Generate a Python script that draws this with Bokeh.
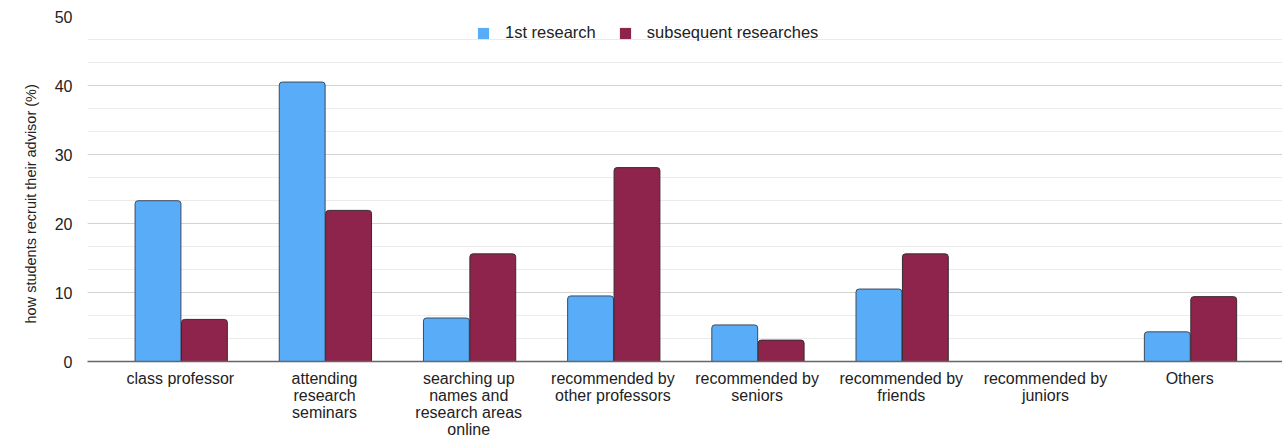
from bokeh.plotting import figure
from bokeh.models import (ColumnDataSource, FactorRange, Range1d, SingleIntervalTicker,
                          Legend, LegendItem, Title)
from bokeh.transform import dodge
from bokeh.embed import file_html
from bokeh.resources import INLINE

# Ways students found their research advisor (% of respondents)
categories = [
    "class professor",
    "attending\nresearch\nseminars",
    "searching up\nnames and\nresearch areas\nonline",
    "recommended by\nother professors",
    "recommended by\nseniors",
    "recommended by\nfriends",
    "recommended by\njuniors",
    "Others",
]
first_research = [23.3, 40.5, 6.3, 9.5, 5.3, 10.5, 0.0, 4.3]
subsequent_researches = [6.1, 21.9, 15.6, 28.1, 3.1, 15.6, 0.0, 9.4]
series_names = ["1st research", "subsequent researches"]
y_title = "how students recruit their advisor (%)"

BLUE = "#59acf8"
WINE = "#8e244b"
FONT = "Liberation Sans"

source = ColumnDataSource(dict(cat=categories, first=first_research, subs=subsequent_researches))

p = figure(
    frame_width=1195, frame_height=345,
    x_range=FactorRange(*categories, range_padding=0.036),
    y_range=Range1d(0, 50),
    output_backend="svg", toolbar_location=None,
    min_border_left=87, min_border_right=0, min_border_top=16, min_border_bottom=0,
)
p.outline_line_color = None

bw = 0.318
r1 = p.vbar(x=dodge("cat", -0.155, range=p.x_range), top="first", width=bw, source=source,
            fill_color=BLUE, line_color="#3d4a5a", line_width=1, border_radius=[3, 3, 0, 0])
r2 = p.vbar(x=dodge("cat", 0.167, range=p.x_range), top="subs", width=bw, source=source,
            fill_color=WINE, line_color="#3a2a30", line_width=1, border_radius=[3, 3, 0, 0])

# legend swatches without the dark bar outline (zero-height, never visible on the plot)
sw1 = p.vbar(x=[categories[0]], top=[0], bottom=[0], width=bw, fill_color=BLUE, line_alpha=0)
sw2 = p.vbar(x=[categories[0]], top=[0], bottom=[0], width=bw, fill_color=WINE, line_alpha=0)

legend = Legend(items=[LegendItem(label=series_names[0], renderers=[sw1]),
                       LegendItem(label=series_names[1], renderers=[sw2])],
                orientation="horizontal", location=(389, 319),
                label_text_font=FONT, label_text_font_size="16.5px", label_text_color="#222222",
                glyph_width=14, glyph_height=14, spacing=22, label_standoff=15,
                border_line_color=None, background_fill_alpha=0, margin=0, padding=0)
p.add_layout(legend, "center")

# y axis title as a side title, anchored at the bottom and nudged up
ytitle = Title(text=y_title, align="left", offset=38, standoff=26,
               text_font=FONT, text_font_size="14.5px", text_font_style="normal",
               text_color="#222222")
p.add_layout(ytitle, "left")

p.yaxis.ticker = SingleIntervalTicker(interval=10, num_minor_ticks=3)
p.yaxis.major_label_text_font = FONT
p.yaxis.major_label_text_font_size = "16px"
p.yaxis.major_label_text_color = "#222222"
p.yaxis.axis_line_color = None
p.yaxis.major_tick_line_color = None
p.yaxis.minor_tick_line_color = None
p.yaxis.major_label_standoff = 9

# x axis
p.xaxis.major_label_text_font = FONT
p.xaxis.major_label_text_font_size = "16px"
p.xaxis.major_label_text_color = "#222222"
p.xaxis.major_label_text_line_height = 1.0
p.xaxis.major_label_standoff = 2
p.xaxis.axis_line_color = "#666666"
p.xaxis.axis_line_width = 1.5
p.xaxis.major_tick_line_color = None
p.xaxis.minor_tick_line_color = None
p.xaxis.major_label_orientation = "horizontal"

# grid
p.xgrid.grid_line_color = None
p.ygrid.grid_line_color = "#d3d3d3"
p.ygrid.grid_line_width = 1
p.ygrid.minor_grid_line_color = "#ebebeb"
p.ygrid.minor_grid_line_width = 1

open("out.html", "w").write(file_html(p, INLINE))
